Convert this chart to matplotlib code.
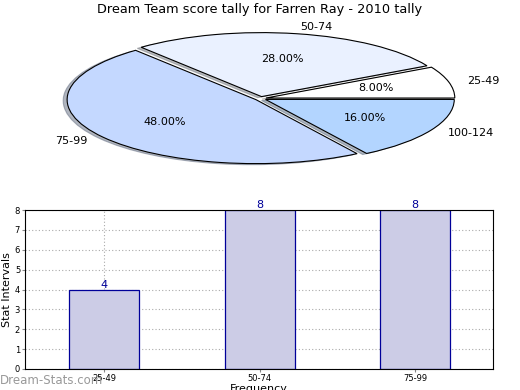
import matplotlib
matplotlib.use("Agg")
import matplotlib.pyplot as plt

title = "Dream Team score tally for Farren Ray - 2010 tally"
pie_labels = ["25-49", "50-74", "75-99", "100-124"]
pie_values = [2, 7, 12, 4]
pie_colors = ["#ffffff", "#eaf1ff", "#c4d8ff", "#b3d5ff"]

bar_labels = ["25-49", "50-74", "75-99"]
bar_values = [4, 8, 8]

fig = plt.figure(figsize=(5.2, 3.9), dpi=100)

ax1 = fig.add_axes([24.5/520, 1 - 178.5/390, 472/520, 160/390])
wedges, texts, autotexts = ax1.pie(
    pie_values, labels=pie_labels, colors=pie_colors, autopct="%1.2f%%",
    explode=[0.03]*4, shadow={"ox": -0.015, "oy": -0.012, "shade": 0.5},
    startangle=0,
    wedgeprops=dict(edgecolor="black", linewidth=0.8),
    textprops=dict(fontsize=8))
ax1.set_aspect("auto")
ax1.set_xlim(-1.25, 1.25)
ax1.set_ylim(-1.25, 1.25)
fig.text(0.5, 1 - 10/390, title, ha="center", va="center", fontsize=9.3)

ax2 = fig.add_axes([25/520, 1 - 369/390, 468/520, 159/390])
x = list(range(len(bar_labels)))
bars = ax2.bar(x, bar_values, width=0.45, color="#ccccE6", edgecolor="#000099", linewidth=0.9, zorder=2)
for xi, v in zip(x, bar_values):
    ax2.text(xi, v, str(v), ha="center", va="bottom", color="#000099", fontsize=8)
ax2.set_xlim(-0.51, 2.5)
ax2.set_ylim(0, 8)
ax2.set_yticks(range(0, 9))
ax2.set_xticks(x)
ax2.set_xticklabels(bar_labels)
ax2.tick_params(labelsize=6, length=2, color="#888888", pad=1.5)
ax2.grid(True, linestyle=(0, (1, 2)), color="#aaaaaa", linewidth=0.8, zorder=0)
ax2.set_axisbelow(True)
ax2.set_ylabel("Stat Intervals", fontsize=8)
ax2.yaxis.set_label_coords(-0.027, 0.5)
ax2.set_xlabel("Frequency", fontsize=8)
ax2.xaxis.set_label_coords(0.5, -0.094)
fig.text(0, 1 - 381/390, "Dream-Stats.com", color="#999999", fontsize=8.5,
         ha="left", va="center")

fig.savefig("out.png", dpi=100)
